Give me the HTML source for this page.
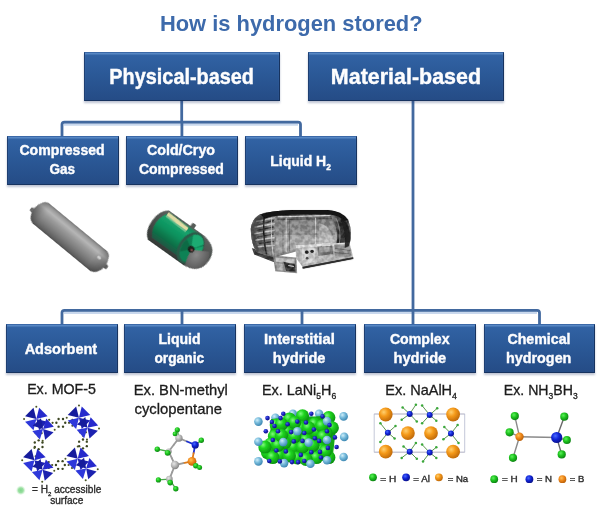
<!DOCTYPE html>
<html><head><meta charset="utf-8"><title>How is hydrogen stored?</title>
<style>
html,body{margin:0;padding:0;background:#fff;}
body{width:600px;height:507px;position:relative;overflow:hidden;font-family:"Liberation Sans", sans-serif;}
.t{position:absolute;white-space:nowrap;line-height:1;transform-origin:0 0;display:block;}
.t sub{font-size:0.66em;vertical-align:baseline;position:relative;top:0.22em;line-height:0;}
.b{font-weight:bold;}
.w{color:#fdfdfe;}
.blue{color:#3d6aab;}
.k{color:#1c1c1c;}
.g{color:#2c2c2c;}
.sb{-webkit-text-stroke:0.25px #2c2c2c;}
.bx{position:absolute;box-sizing:border-box;background:linear-gradient(#3263a5,#2b5997 45%,#254c86);border:1.2px solid #17335f;border-top:1px solid #3b69a8;border-left-color:#1e3f72;box-shadow:inset 0 1.5px 1px rgba(130,175,230,.5),0 1.5px 2px rgba(40,60,110,.3);}
svg{position:absolute;left:0;top:0;}
#root{position:absolute;left:0;top:0;width:600px;height:507px;background:#fff;filter:blur(0.45px);}
</style></head><body><div id="root">
<svg width="600" height="507" viewBox="0 0 600 507" fill="none" stroke="#42699f" stroke-width="2.8" stroke-linejoin="round">
<g opacity=".42" stroke="#7fa2d4" stroke-width="3" transform="translate(0 2.1)">
<path d="M64 122.100H298M64 310.300H537"/>
</g>
<path d="M181.700 99V122.100"/>
<path d="M62 138V124.600Q62 122.100 64.500 122.100H298Q300.500 122.100 300.500 124.600V138"/>
<path d="M181.900 122.100V138"/>
<path d="M413 99V310.300"/>
<path d="M62 326V312.800Q62 310.300 64.500 310.300H537Q539.500 310.300 539.500 312.800V326"/>
<path d="M182 310.300V326M302 310.300V326M413 310.300V326"/>
</svg>

<div class="bx" style="left:83.5px;top:51.7px;width:196.39999999999998px;height:49.099999999999994px"></div>
<div class="bx" style="left:308.2px;top:51.7px;width:196.3px;height:49.099999999999994px"></div>
<div class="bx" style="left:6.6px;top:136.2px;width:112.4px;height:48.60000000000002px"></div>
<div class="bx" style="left:126px;top:136.2px;width:112px;height:48.60000000000002px"></div>
<div class="bx" style="left:244.5px;top:136.2px;width:112.80000000000001px;height:48.60000000000002px"></div>
<div class="bx" style="left:5.5px;top:324.4px;width:112.3px;height:48.900000000000034px"></div>
<div class="bx" style="left:123.8px;top:324.4px;width:112.2px;height:48.900000000000034px"></div>
<div class="bx" style="left:243.8px;top:324.4px;width:112.09999999999997px;height:48.900000000000034px"></div>
<div class="bx" style="left:364px;top:324.4px;width:111.89999999999998px;height:48.900000000000034px"></div>
<div class="bx" style="left:483.8px;top:324.4px;width:111.09999999999997px;height:48.900000000000034px"></div>
<svg width="600" height="507" viewBox="0 0 600 507">
<defs>
<linearGradient id="gasg" x1="0" y1="0" x2="0" y2="1">
<stop offset="0" stop-color="#7a7a7a"/><stop offset="0.1" stop-color="#9c9c9c"/><stop offset="0.24" stop-color="#b6b6b6"/><stop offset="0.42" stop-color="#9b9b9b"/><stop offset="0.7" stop-color="#7d7d7d"/><stop offset="0.9" stop-color="#646464"/><stop offset="1" stop-color="#505050"/>
</linearGradient>
<linearGradient id="gasend" x1="0" y1="0" x2="1" y2="0">
<stop offset="0" stop-color="#000" stop-opacity=".3"/><stop offset="0.1" stop-color="#000" stop-opacity=".05"/><stop offset="0.14" stop-color="#000" stop-opacity="0"/><stop offset="0.84" stop-color="#000" stop-opacity="0"/><stop offset="0.9" stop-color="#000" stop-opacity=".1"/><stop offset="1" stop-color="#000" stop-opacity=".32"/>
</linearGradient>
<filter id="b6" x="-10%" y="-10%" width="120%" height="120%"><feGaussianBlur stdDeviation="0.55"/></filter>
</defs>
<g transform="translate(69.5 237.0) rotate(39.5)" filter="url(#b6)">
<rect x="-48" y="0.500" width="6" height="4.500" rx="1.500" fill="#6a6a6a"/>
<rect x="43" y="-2.600" width="5.800" height="4.500" rx="1.500" fill="#5c5c5c"/>
<rect x="-45.5" y="-12.9" width="91.5" height="25.8" rx="9" ry="12.9" fill="url(#gasg)"/>
<rect x="-45.5" y="-12.9" width="91.5" height="25.8" rx="9" ry="12.9" fill="url(#gasend)"/>
<ellipse cx="36" cy="-3" rx="2.200" ry="1.600" fill="#fff" opacity=".55"/>
</g>
</svg>

<svg width="600" height="507" viewBox="0 0 600 507">
<defs>
<linearGradient id="crg" x1="0" y1="0" x2="0" y2="1">
<stop offset="0" stop-color="#1b835a"/><stop offset="0.2" stop-color="#15a36d"/><stop offset="0.5" stop-color="#0d915d"/><stop offset="0.78" stop-color="#0a7047"/><stop offset="1" stop-color="#245643"/>
</linearGradient>
<linearGradient id="crs" x1="0" y1="0" x2="0" y2="1">
<stop offset="0" stop-color="#5d625f"/><stop offset="0.5" stop-color="#474c49"/><stop offset="1" stop-color="#353a37"/>
</linearGradient>
<radialGradient id="crd" cx="0.35" cy="0.4" r="0.75">
<stop offset="0" stop-color="#8a8a8a"/><stop offset="1" stop-color="#505050"/>
</radialGradient>
<filter id="b5" x="-10%" y="-10%" width="120%" height="120%"><feGaussianBlur stdDeviation="0.55"/></filter>
</defs>
<g transform="translate(180.4 240.8) rotate(35.5)" filter="url(#b5)">
<!-- outer shell -->
<path d="M-27 -18L16 -18Q34.75 -16 34.75 0Q34.75 16 16 18L-27 18Q-34.75 13 -34.75 0Q-34.75 -13 -27 -18Z" fill="url(#crs)"/>
<!-- green body -->
<path d="M-25 -16.6H10V14H-25Q-30.5 7 -30.5 -1Q-30.5 -9 -25 -16.6Z" fill="url(#crg)"/>
<!-- cream highlight -->
<path d="M-26 -16.4L-1 -15.2V-11.4L-26 -12.6Z" fill="#e0dba4"/>
<path d="M-26 -12.6L-1 -11.4V-9.8L-26 -11Z" fill="#8fcf9f" opacity=".7"/>
<!-- right end rim -->
<ellipse cx="12.500" cy="0" rx="12" ry="17.2" fill="#2b5b49"/>
<ellipse cx="13.500" cy="0" rx="10" ry="15" fill="#0e8254"/>
<!-- fan sectors -->
<path d="M13.700 0.500L7 -12A10 15 0 0 1 21 -10.5Z" fill="#1cab72"/>
<path d="M13.700 0.500L6 9A10 15 0 0 1 4.500 -5Z" fill="#0a6a45"/>
<path d="M13.700 0.500L22 -9A10 15 0 0 1 23.500 -1Z" fill="#14a36b"/>
<!-- gray dome lower right -->
<path d="M14 1L30 -8Q36.500 0 33 9Q28.500 17 18 17.600Q15 10 14 1Z" fill="url(#crd)"/>
<!-- hub -->
<circle cx="13.700" cy="0.600" r="3.400" fill="#1b211e"/>
<circle cx="14.600" cy="1" r="1.300" fill="#7d4a4a"/>
<!-- nub -->
<rect x="-0.500" y="-22" width="4.500" height="5" rx="1" fill="#565b58"/>
</g>
</svg>

<svg width="600" height="507" viewBox="0 0 600 507">
<defs>
<linearGradient id="lhb" x1="0" y1="0" x2="0" y2="1">
<stop offset="0" stop-color="#2b2b2b"/><stop offset="0.14" stop-color="#555"/><stop offset="0.22" stop-color="#848484"/><stop offset="0.45" stop-color="#8e8e8e"/><stop offset="0.62" stop-color="#b4b4b4"/><stop offset="0.85" stop-color="#a0a0a0"/><stop offset="1" stop-color="#6a6a6a"/>
</linearGradient>
<linearGradient id="lhr" x1="0" y1="0" x2="1" y2="0.2">
<stop offset="0" stop-color="#9a9a9a"/><stop offset="0.3" stop-color="#5a5a5a"/><stop offset="0.55" stop-color="#262626"/><stop offset="0.85" stop-color="#2e2e2e"/><stop offset="1" stop-color="#6a6a6a"/>
</linearGradient>
<linearGradient id="lhl" x1="0" y1="0" x2="1" y2="0">
<stop offset="0" stop-color="#666"/><stop offset="0.4" stop-color="#5a5a5a"/><stop offset="1" stop-color="#8c8c8c"/>
</linearGradient>
<filter id="b7" x="-5%" y="-5%" width="110%" height="110%" color-interpolation-filters="sRGB">
<feTurbulence type="fractalNoise" baseFrequency="0.045" numOctaves="2" seed="7" result="n"/>
<feColorMatrix in="n" type="matrix" values="1 0 0 0 0  1 0 0 0 0  1 0 0 0 0  0 0 0 0 1" result="g"/>
<feComponentTransfer in="g" result="g2"><feFuncR type="linear" slope="3.2" intercept="-1.1"/><feFuncG type="linear" slope="3.2" intercept="-1.1"/><feFuncB type="linear" slope="3.2" intercept="-1.1"/><feFuncA type="linear" slope="0" intercept="0.15"/></feComponentTransfer>
<feComposite in="g2" in2="SourceGraphic" operator="in" result="g3"/>
<feMerge result="m"><feMergeNode in="SourceGraphic"/><feMergeNode in="g3"/></feMerge>
<feGaussianBlur in="m" stdDeviation="2.2"/>
</filter>
<filter id="b8" x="-5%" y="-5%" width="110%" height="110%"><feGaussianBlur stdDeviation="2.2"/></filter>
</defs>
<g transform="translate(245 200) scale(0.19168)" filter="url(#b7)">
<!-- base plate -->
<path d="M36 250L150 294L156 326L48 284Z" fill="#383838"/>
<!-- body -->
<path d="M30 150Q38 95 80 74Q150 54 250 52L430 52Q505 56 538 104Q562 160 546 232L524 254L290 262L150 300L62 272Q30 230 30 150Z" fill="url(#lhb)"/>
<!-- left end -->
<path d="M30 150Q38 95 80 74Q120 62 165 57L158 298L62 272Q30 230 30 150Z" fill="url(#lhl)"/>
<path d="M58 112L155 92M50 142L155 122M48 176L155 158M52 210L155 196M66 244L155 236" stroke="#e0e0e0" stroke-width="8" opacity=".8" fill="none"/>
<path d="M70 128L150 108M60 160L150 140M62 194L150 178M72 228L150 216" stroke="#1c1c1c" stroke-width="7" opacity=".85" fill="none"/>
<path d="M102 72Q88 170 112 284" stroke="#1a1a1a" stroke-width="8" fill="none"/>
<path d="M142 62Q130 170 148 296" stroke="#e8e8e8" stroke-width="5" fill="none" opacity=".85"/>
<!-- top black band -->

<path d="M170 88L470 80" stroke="#ededed" stroke-width="6" opacity=".9"/>
<path d="M170 102L470 96" stroke="#3c3c3c" stroke-width="7" opacity=".8"/>
<!-- seams -->
<path d="M215 95V272M368 92V252" stroke="#f0f0f0" stroke-width="4" opacity=".85"/>
<path d="M198 100V276M232 100V268" stroke="#4a4a4a" stroke-width="3.500" opacity=".7"/>
<path d="M160 178H470" stroke="#6e6e6e" stroke-width="5" opacity=".7"/>
<path d="M385 120Q440 130 465 210L465 250L385 252Z" fill="#d2d2d2" opacity=".55"/>
<!-- right dome -->
<path d="M440 72Q505 60 538 104Q562 160 546 232L528 254L470 256Q500 160 440 72Z" fill="url(#lhr)"/>
<path d="M476 96Q506 160 490 244" stroke="#a8a8a8" stroke-width="5" fill="none" opacity=".7"/>
<!-- large panel -->
<path d="M264 236L545 222L564 298L300 348L266 302Z" fill="#bdbdbd"/>
<path d="M264 236L545 222L548 236L266 250Z" fill="#e6e6e6"/>
<path d="M298 252H366V322L298 338Z" fill="#dadada"/>
<circle cx="322" cy="272" r="9" fill="#222"/><circle cx="350" cy="268" r="8" fill="#2c2c2c"/>
<circle cx="324" cy="304" r="7" fill="#3a3a3a"/>
<path d="M378 242L456 238L460 282L382 292Z" fill="#767676"/>
<path d="M386 248L440 245L442 270L388 275Z" fill="#a4a4a4"/>
<path d="M400 226L445 224L446 240L402 243Z" fill="#f2f2f2"/>
<path d="M466 234L545 230L556 292L472 302Z" fill="#969696"/>
<path d="M470 252L550 264M468 274L553 282" stroke="#5a5a5a" stroke-width="4"/>
<path d="M300 348L564 298L564 307L302 358Z" fill="#333"/>
<!-- small panel -->
<path d="M146 290L268 300L272 382L158 372Z" fill="#8e8e8e"/>
<path d="M158 300L258 308L260 330L163 322Z" fill="#c8c8c8"/>
<path d="M200 322L262 336L264 374L215 370Z" fill="#2a2a2a"/>
<path d="M163 330L195 334L198 368L166 364Z" fill="#b4b4b4"/>
<path d="M225 342L255 347" stroke="#e2e2e2" stroke-width="6"/>
</g>
<g transform="translate(245 200) scale(0.19168)" filter="url(#b8)">
<path d="M80 75Q150 54 250 52L430 52Q505 56 538 104L518 110Q492 78 430 74L250 75Q160 78 100 97Z" fill="#121212"/>
<path d="M506 94Q538 112 548 170Q552 210 542 240L520 250Q528 170 500 106Z" fill="#1c1c1c" opacity=".9"/>
<path d="M34 150Q40 100 80 76L100 96Q62 120 56 170Q54 220 78 268L62 272Q32 230 34 150Z" fill="#2a2a2a" opacity=".5"/>
<path d="M300 350L564 300L564 308L302 359Z" fill="#2c2c2c"/>
<circle cx="322" cy="272" r="8" fill="#1e1e1e"/><circle cx="350" cy="268" r="7" fill="#262626"/>
</g>
</svg>

<svg width="600" height="507" viewBox="0 0 600 507">
<defs><filter id="bm" x="-5%" y="-5%" width="110%" height="110%"><feGaussianBlur stdDeviation="1.5"/></filter><radialGradient id="gh"><stop offset="0" stop-color="#7fd58a"/><stop offset="0.55" stop-color="#9be0a2"/><stop offset="1" stop-color="#d8f3da" stop-opacity="0.3"/></radialGradient></defs>
<g transform="translate(15 400) scale(0.21110)" filter="url(#bm)">
<circle cx="238.0" cy="108.0" r="5.6" fill="#3a4420"/><circle cx="227.5" cy="126.2" r="5.6" fill="#3a4420"/><circle cx="206.5" cy="126.2" r="5.6" fill="#3a4420"/><circle cx="196.0" cy="108.0" r="5.6" fill="#3a4420"/><circle cx="206.5" cy="89.8" r="5.6" fill="#3a4420"/><circle cx="227.5" cy="89.8" r="5.6" fill="#3a4420"/>
<circle cx="178" cy="108" r="5.2" fill="#454f24"/>
<circle cx="162" cy="94" r="5.2" fill="#454f24"/>
<circle cx="162" cy="122" r="5.2" fill="#454f24"/>
<circle cx="256" cy="108" r="5.2" fill="#454f24"/>
<circle cx="272" cy="94" r="5.2" fill="#454f24"/>
<circle cx="272" cy="122" r="5.2" fill="#454f24"/>
<circle cx="236.0" cy="308.0" r="5.6" fill="#3a4420"/><circle cx="225.5" cy="326.2" r="5.6" fill="#3a4420"/><circle cx="204.5" cy="326.2" r="5.6" fill="#3a4420"/><circle cx="194.0" cy="308.0" r="5.6" fill="#3a4420"/><circle cx="204.5" cy="289.8" r="5.6" fill="#3a4420"/><circle cx="225.5" cy="289.8" r="5.6" fill="#3a4420"/>
<circle cx="176" cy="308" r="5.2" fill="#454f24"/>
<circle cx="160" cy="294" r="5.2" fill="#454f24"/>
<circle cx="160" cy="322" r="5.2" fill="#454f24"/>
<circle cx="254" cy="308" r="5.2" fill="#454f24"/>
<circle cx="270" cy="294" r="5.2" fill="#454f24"/>
<circle cx="270" cy="322" r="5.2" fill="#454f24"/>
<circle cx="130.2" cy="222.5" r="5.6" fill="#3a4420"/><circle cx="112.0" cy="233.0" r="5.6" fill="#3a4420"/><circle cx="93.8" cy="222.5" r="5.6" fill="#3a4420"/><circle cx="93.8" cy="201.5" r="5.6" fill="#3a4420"/><circle cx="112.0" cy="191.0" r="5.6" fill="#3a4420"/><circle cx="130.2" cy="201.5" r="5.6" fill="#3a4420"/>
<circle cx="112" cy="173" r="5.2" fill="#454f24"/>
<circle cx="98" cy="157" r="5.2" fill="#454f24"/>
<circle cx="126" cy="157" r="5.2" fill="#454f24"/>
<circle cx="112" cy="251" r="5.2" fill="#454f24"/>
<circle cx="98" cy="267" r="5.2" fill="#454f24"/>
<circle cx="126" cy="267" r="5.2" fill="#454f24"/>
<circle cx="340.2" cy="218.5" r="5.6" fill="#3a4420"/><circle cx="322.0" cy="229.0" r="5.6" fill="#3a4420"/><circle cx="303.8" cy="218.5" r="5.6" fill="#3a4420"/><circle cx="303.8" cy="197.5" r="5.6" fill="#3a4420"/><circle cx="322.0" cy="187.0" r="5.6" fill="#3a4420"/><circle cx="340.2" cy="197.5" r="5.6" fill="#3a4420"/>
<circle cx="322" cy="169" r="5.2" fill="#454f24"/>
<circle cx="308" cy="153" r="5.2" fill="#454f24"/>
<circle cx="336" cy="153" r="5.2" fill="#454f24"/>
<circle cx="322" cy="247" r="5.2" fill="#454f24"/>
<circle cx="308" cy="263" r="5.2" fill="#454f24"/>
<circle cx="336" cy="263" r="5.2" fill="#454f24"/>
<path d="M101.0 90.0L154.4 103.3L114.3 143.4Z" fill="#1d22b0"/><path d="M101.0 90.0L87.7 143.4L47.6 103.3Z" fill="#2e38da"/><path d="M101.0 90.0L47.6 76.7L87.7 36.6Z" fill="#181c9c"/><path d="M101.0 90.0L114.3 36.6L154.4 76.7Z" fill="#262ccc"/>
<path d="M133.0 137.0L182.7 152.2L142.9 188.0Z" fill="#1d22b0"/><path d="M133.0 137.0L117.8 186.7L82.0 146.9Z" fill="#2e38da"/><path d="M133.0 137.0L83.3 121.8L123.1 86.0Z" fill="#181c9c"/><path d="M133.0 137.0L148.2 87.3L184.0 127.1Z" fill="#262ccc"/>
<circle cx="101" cy="32" r="4.8" fill="#4b5626"/>
<circle cx="43" cy="90" r="4.8" fill="#4b5626"/>
<circle cx="188" cy="141" r="4.8" fill="#4b5626"/>
<circle cx="131" cy="193" r="4.8" fill="#4b5626"/>
<path d="M303.0 84.0L356.4 97.3L316.3 137.4Z" fill="#1d22b0"/><path d="M303.0 84.0L289.7 137.4L249.6 97.3Z" fill="#2e38da"/><path d="M303.0 84.0L249.6 70.7L289.7 30.6Z" fill="#181c9c"/><path d="M303.0 84.0L316.3 30.6L356.4 70.7Z" fill="#262ccc"/>
<path d="M343.0 131.0L392.7 146.2L352.9 182.0Z" fill="#1d22b0"/><path d="M343.0 131.0L327.8 180.7L292.0 140.9Z" fill="#2e38da"/><path d="M343.0 131.0L293.3 115.8L333.1 80.0Z" fill="#181c9c"/><path d="M343.0 131.0L358.2 81.3L394.0 121.1Z" fill="#262ccc"/>
<circle cx="303" cy="26" r="4.8" fill="#4b5626"/>
<circle cx="245" cy="84" r="4.8" fill="#4b5626"/>
<circle cx="398" cy="135" r="4.8" fill="#4b5626"/>
<circle cx="341" cy="187" r="4.8" fill="#4b5626"/>
<path d="M92.0 285.0L145.4 298.3L105.3 338.4Z" fill="#1d22b0"/><path d="M92.0 285.0L78.7 338.4L38.6 298.3Z" fill="#2e38da"/><path d="M92.0 285.0L38.6 271.7L78.7 231.6Z" fill="#181c9c"/><path d="M92.0 285.0L105.3 231.6L145.4 271.7Z" fill="#262ccc"/>
<path d="M131.0 331.0L180.7 346.2L140.9 382.0Z" fill="#1d22b0"/><path d="M131.0 331.0L115.8 380.7L80.0 340.9Z" fill="#2e38da"/><path d="M131.0 331.0L81.3 315.8L121.1 280.0Z" fill="#181c9c"/><path d="M131.0 331.0L146.2 281.3L182.0 321.1Z" fill="#262ccc"/>
<circle cx="92" cy="227" r="4.8" fill="#4b5626"/>
<circle cx="34" cy="285" r="4.8" fill="#4b5626"/>
<circle cx="186" cy="335" r="4.8" fill="#4b5626"/>
<circle cx="129" cy="387" r="4.8" fill="#4b5626"/>
<path d="M297.0 278.0L350.4 291.3L310.3 331.4Z" fill="#1d22b0"/><path d="M297.0 278.0L283.7 331.4L243.6 291.3Z" fill="#2e38da"/><path d="M297.0 278.0L243.6 264.7L283.7 224.6Z" fill="#181c9c"/><path d="M297.0 278.0L310.3 224.6L350.4 264.7Z" fill="#262ccc"/>
<path d="M337.0 324.0L386.7 339.2L346.9 375.0Z" fill="#1d22b0"/><path d="M337.0 324.0L321.8 373.7L286.0 333.9Z" fill="#2e38da"/><path d="M337.0 324.0L287.3 308.8L327.1 273.0Z" fill="#181c9c"/><path d="M337.0 324.0L352.2 274.3L388.0 314.1Z" fill="#262ccc"/>
<circle cx="297" cy="220" r="4.8" fill="#4b5626"/>
<circle cx="239" cy="278" r="4.8" fill="#4b5626"/>
<circle cx="392" cy="328" r="4.8" fill="#4b5626"/>
<circle cx="335" cy="380" r="4.8" fill="#4b5626"/>
</g>
<circle cx="20.8" cy="490.3" r="4.6" fill="url(#gh)"/>
</svg>
<svg width="600" height="507" viewBox="0 0 600 507">
<defs>
<radialGradient id="mg" cx="0.38" cy="0.35" r="0.7"><stop offset="0" stop-color="#5cf05c"/><stop offset="0.45" stop-color="#1fc51f"/><stop offset="1" stop-color="#0b7d12"/></radialGradient>
<radialGradient id="mc" cx="0.38" cy="0.35" r="0.7"><stop offset="0" stop-color="#e6e6e6"/><stop offset="0.5" stop-color="#b5b5b5"/><stop offset="1" stop-color="#7d7d7d"/></radialGradient>
<radialGradient id="mn" cx="0.38" cy="0.35" r="0.7"><stop offset="0" stop-color="#4a6bff"/><stop offset="0.45" stop-color="#1226d8"/><stop offset="1" stop-color="#060e86"/></radialGradient>
<radialGradient id="mo" cx="0.38" cy="0.35" r="0.7"><stop offset="0" stop-color="#ffc05a"/><stop offset="0.45" stop-color="#f08a1c"/><stop offset="1" stop-color="#b85c06"/></radialGradient>
<filter id="mb" x="-10%" y="-10%" width="120%" height="120%"><feGaussianBlur stdDeviation="0.45"/></filter>
</defs>
<g filter="url(#mb)">
<path d="M178.9 438.1L187.0 441.5" stroke="#9a9a9a" stroke-width="1.8" stroke-linecap="round"/><path d="M187.0 441.5L195.2 444.9" stroke="#1a2fd0" stroke-width="1.8" stroke-linecap="round"/>
<path d="M195.2 444.9L193.6 453.1" stroke="#1a2fd0" stroke-width="1.8" stroke-linecap="round"/><path d="M193.6 453.1L192.0 461.3" stroke="#e07a18" stroke-width="1.8" stroke-linecap="round"/>
<path d="M192.0 461.3L183.5 463.1" stroke="#e07a18" stroke-width="1.8" stroke-linecap="round"/><path d="M183.5 463.1L175.0 465.0" stroke="#9a9a9a" stroke-width="1.8" stroke-linecap="round"/>
<path d="M175.0 465.0L171.8 458.2" stroke="#9a9a9a" stroke-width="1.8" stroke-linecap="round"/><path d="M171.8 458.2L168.7 451.5" stroke="#9a9a9a" stroke-width="1.8" stroke-linecap="round"/>
<path d="M168.7 451.5L173.8 444.8" stroke="#9a9a9a" stroke-width="1.8" stroke-linecap="round"/><path d="M173.8 444.8L178.9 438.1" stroke="#9a9a9a" stroke-width="1.8" stroke-linecap="round"/>
<path d="M175.0 465.0L172.2 472.1" stroke="#9a9a9a" stroke-width="1.8" stroke-linecap="round"/><path d="M172.2 472.1L169.4 479.1" stroke="#9a9a9a" stroke-width="1.8" stroke-linecap="round"/>
<path d="M178.9 438.1L177.3 429.8" stroke="#4aa84a" stroke-width="1.3" stroke-linecap="round"/>
<path d="M195.2 444.9L201.3 440.2" stroke="#4aa84a" stroke-width="1.3" stroke-linecap="round"/>
<path d="M168.7 451.5L157.3 449.2" stroke="#4aa84a" stroke-width="1.3" stroke-linecap="round"/>
<path d="M192.0 461.3L195.8 465.7" stroke="#4aa84a" stroke-width="1.3" stroke-linecap="round"/>
<path d="M192.0 461.3L199.6 467.6" stroke="#4aa84a" stroke-width="1.3" stroke-linecap="round"/>
<path d="M169.4 479.1L158.4 479.9" stroke="#4aa84a" stroke-width="1.3" stroke-linecap="round"/>
<path d="M169.4 479.1L175.8 488.8" stroke="#4aa84a" stroke-width="1.3" stroke-linecap="round"/>
<circle cx="168.7" cy="451.5" r="3.0" fill="url(#mc)"/>
<circle cx="169.4" cy="479.1" r="3.3" fill="url(#mc)"/>
<circle cx="178.9" cy="438.1" r="3.7" fill="url(#mc)"/>
<circle cx="175.0" cy="465.0" r="4.2" fill="url(#mc)"/>
<circle cx="195.2" cy="444.9" r="3.6" fill="url(#mn)"/>
<circle cx="192.0" cy="461.3" r="4.4" fill="url(#mo)"/>
<circle cx="177.3" cy="429.8" r="2.6" fill="url(#mg)"/>
<circle cx="175.0" cy="433.9" r="2.4" fill="url(#mg)"/>
<circle cx="201.3" cy="440.2" r="2.7" fill="url(#mg)"/>
<circle cx="157.3" cy="449.2" r="2.7" fill="url(#mg)"/>
<circle cx="167.6" cy="452.8" r="2.9" fill="url(#mg)"/>
<circle cx="195.8" cy="465.7" r="2.7" fill="url(#mg)"/>
<circle cx="199.6" cy="467.6" r="2.5" fill="url(#mg)"/>
<circle cx="158.4" cy="479.9" r="2.6" fill="url(#mg)"/>
<circle cx="170.2" cy="482.6" r="2.8" fill="url(#mg)"/>
<circle cx="175.8" cy="488.8" r="2.7" fill="url(#mg)"/>
</g></svg>
<svg width="600" height="507" viewBox="0 0 600 507">
<defs>
<radialGradient id="lg" cx="0.36" cy="0.33" r="0.75"><stop offset="0" stop-color="#80fa80"/><stop offset="0.35" stop-color="#20d620"/><stop offset="1" stop-color="#07880c"/></radialGradient>
<radialGradient id="ll" cx="0.36" cy="0.33" r="0.75"><stop offset="0" stop-color="#cfeefa"/><stop offset="0.45" stop-color="#74b9da"/><stop offset="1" stop-color="#357fab"/></radialGradient>
<radialGradient id="ld" cx="0.36" cy="0.33" r="0.75"><stop offset="0" stop-color="#4a5cf0"/><stop offset="0.5" stop-color="#1a1fb8"/><stop offset="1" stop-color="#0a0a70"/></radialGradient>
<filter id="lb" x="-10%" y="-10%" width="120%" height="120%"><feGaussianBlur stdDeviation="0.5"/></filter>
</defs>
<g filter="url(#lb)">
<circle cx="275.4" cy="417.6" r="4.2" fill="url(#ll)"/>
<circle cx="292.9" cy="413.8" r="4.2" fill="url(#ll)"/>
<circle cx="319.1" cy="413.8" r="4.2" fill="url(#ll)"/>
<circle cx="285.0" cy="421.6" r="4.2" fill="url(#ll)"/>
<circle cx="310.4" cy="419.9" r="4.2" fill="url(#ll)"/>
<path d="M271.0 419.0 L331.4 415.5 L336.1 426.9 L332.3 461.0 L267.5 461.0 L262.3 450.5 L269.3 436.5 L271.0 426.0Z" fill="#12a818"/>
<circle cx="276.3" cy="425.1" r="6.6" fill="url(#lg)"/>
<circle cx="289.4" cy="419.0" r="6.6" fill="url(#lg)"/>
<circle cx="302.5" cy="415.9" r="6.6" fill="url(#lg)"/>
<circle cx="287.6" cy="431.3" r="6.6" fill="url(#lg)"/>
<circle cx="300.8" cy="427.4" r="6.6" fill="url(#lg)"/>
<circle cx="314.8" cy="423.9" r="6.6" fill="url(#lg)"/>
<circle cx="316.5" cy="431.6" r="6.6" fill="url(#lg)"/>
<circle cx="328.8" cy="417.6" r="6.6" fill="url(#lg)"/>
<circle cx="332.3" cy="427.8" r="6.6" fill="url(#lg)"/>
<circle cx="326.1" cy="433.0" r="6.6" fill="url(#lg)"/>
<circle cx="274.5" cy="436.2" r="6.6" fill="url(#lg)"/>
<circle cx="271.0" cy="443.9" r="6.6" fill="url(#lg)"/>
<circle cx="267.5" cy="452.6" r="6.6" fill="url(#lg)"/>
<circle cx="279.8" cy="454.9" r="6.6" fill="url(#lg)"/>
<circle cx="293.8" cy="447.0" r="6.6" fill="url(#lg)"/>
<circle cx="297.3" cy="457.9" r="6.6" fill="url(#lg)"/>
<circle cx="307.8" cy="451.9" r="6.6" fill="url(#lg)"/>
<circle cx="320.0" cy="449.1" r="6.6" fill="url(#lg)"/>
<circle cx="328.8" cy="457.5" r="6.6" fill="url(#lg)"/>
<circle cx="285.0" cy="442.6" r="6.6" fill="url(#lg)"/>
<circle cx="306.0" cy="440.0" r="6.6" fill="url(#lg)"/>
<circle cx="316.5" cy="457.5" r="6.6" fill="url(#lg)"/>
<circle cx="281.5" cy="424.3" r="6.6" fill="url(#lg)"/>
<circle cx="294.6" cy="422.5" r="6.6" fill="url(#lg)"/>
<circle cx="308.6" cy="427.8" r="6.6" fill="url(#lg)"/>
<circle cx="321.8" cy="426.0" r="6.6" fill="url(#lg)"/>
<circle cx="278.0" cy="445.3" r="6.6" fill="url(#lg)"/>
<circle cx="289.4" cy="455.8" r="6.6" fill="url(#lg)"/>
<circle cx="302.5" cy="447.0" r="6.6" fill="url(#lg)"/>
<circle cx="313.0" cy="445.3" r="6.6" fill="url(#lg)"/>
<circle cx="325.3" cy="451.4" r="6.6" fill="url(#lg)"/>
<circle cx="272.8" cy="457.5" r="6.6" fill="url(#lg)"/>
<circle cx="306.0" cy="459.3" r="6.6" fill="url(#lg)"/>
<circle cx="294.6" cy="436.5" r="6.6" fill="url(#lg)"/>
<circle cx="281.5" cy="435.6" r="6.6" fill="url(#lg)"/>
<circle cx="323.5" cy="436.5" r="6.6" fill="url(#lg)"/>
<circle cx="264.9" cy="447.0" r="6.6" fill="url(#lg)"/>
<circle cx="258.4" cy="421.6" r="4.3" fill="url(#ll)"/>
<circle cx="343.6" cy="416.4" r="4.3" fill="url(#ll)"/>
<circle cx="258.4" cy="441.8" r="4.3" fill="url(#ll)"/>
<circle cx="344.2" cy="436.9" r="4.3" fill="url(#ll)"/>
<circle cx="258.4" cy="461.4" r="4.3" fill="url(#ll)"/>
<circle cx="343.6" cy="457.0" r="4.3" fill="url(#ll)"/>
<circle cx="327.0" cy="421.1" r="4.3" fill="url(#ll)"/>
<circle cx="283.3" cy="442.1" r="4.3" fill="url(#ll)"/>
<circle cx="308.6" cy="442.6" r="4.3" fill="url(#ll)"/>
<circle cx="327.0" cy="440.0" r="4.3" fill="url(#ll)"/>
<circle cx="284.1" cy="463.1" r="4.3" fill="url(#ll)"/>
<circle cx="310.4" cy="463.8" r="4.3" fill="url(#ll)"/>
<circle cx="327.0" cy="460.3" r="4.3" fill="url(#ll)"/>
<circle cx="297.3" cy="431.3" r="4.3" fill="url(#ll)"/>
<circle cx="267.5" cy="418.1" r="2.3" fill="url(#ld)"/>
<circle cx="271.9" cy="422.0" r="2.3" fill="url(#ld)"/>
<circle cx="280.6" cy="418.1" r="2.3" fill="url(#ld)"/>
<circle cx="265.8" cy="431.3" r="2.3" fill="url(#ld)"/>
<circle cx="278.0" cy="431.3" r="2.3" fill="url(#ld)"/>
<circle cx="291.1" cy="432.1" r="2.3" fill="url(#ld)"/>
<circle cx="297.3" cy="421.6" r="2.3" fill="url(#ld)"/>
<circle cx="304.3" cy="433.0" r="2.3" fill="url(#ld)"/>
<circle cx="306.0" cy="422.5" r="2.3" fill="url(#ld)"/>
<circle cx="322.6" cy="416.4" r="2.3" fill="url(#ld)"/>
<circle cx="319.1" cy="440.9" r="2.3" fill="url(#ld)"/>
<circle cx="334.9" cy="437.4" r="2.3" fill="url(#ld)"/>
<circle cx="336.6" cy="447.0" r="2.3" fill="url(#ld)"/>
<circle cx="327.9" cy="447.9" r="2.3" fill="url(#ld)"/>
<circle cx="285.9" cy="451.4" r="2.3" fill="url(#ld)"/>
<circle cx="293.8" cy="441.4" r="2.3" fill="url(#ld)"/>
<circle cx="311.3" cy="452.3" r="2.3" fill="url(#ld)"/>
<circle cx="320.0" cy="451.9" r="2.3" fill="url(#ld)"/>
<circle cx="269.3" cy="461.0" r="2.3" fill="url(#ld)"/>
<circle cx="279.8" cy="461.4" r="2.3" fill="url(#ld)"/>
<circle cx="292.0" cy="462.1" r="2.3" fill="url(#ld)"/>
<circle cx="298.1" cy="462.1" r="2.3" fill="url(#ld)"/>
<circle cx="304.3" cy="461.0" r="2.3" fill="url(#ld)"/>
<circle cx="320.9" cy="457.5" r="2.3" fill="url(#ld)"/>
<circle cx="283.3" cy="413.8" r="2.3" fill="url(#ld)"/>
<circle cx="311.3" cy="413.8" r="2.3" fill="url(#ld)"/>
<circle cx="274.5" cy="426.0" r="2.3" fill="url(#ld)"/>
<circle cx="287.6" cy="424.3" r="2.3" fill="url(#ld)"/>
<circle cx="313.9" cy="429.5" r="2.3" fill="url(#ld)"/>
<circle cx="329.6" cy="425.1" r="2.3" fill="url(#ld)"/>
<circle cx="302.5" cy="440.9" r="2.3" fill="url(#ld)"/>
<circle cx="276.3" cy="450.5" r="2.3" fill="url(#ld)"/>
<circle cx="300.8" cy="454.9" r="2.3" fill="url(#ld)"/>
<circle cx="327.0" cy="431.3" r="2.3" fill="url(#ld)"/>
<circle cx="272.8" cy="440.0" r="2.3" fill="url(#ld)"/>
<circle cx="314.8" cy="438.3" r="2.3" fill="url(#ld)"/>
</g></svg>
<svg width="600" height="507" viewBox="0 0 600 507">
<defs>
<radialGradient id="ng" cx="0.38" cy="0.35" r="0.7"><stop offset="0" stop-color="#5cf05c"/><stop offset="0.45" stop-color="#1fc51f"/><stop offset="1" stop-color="#0b7d12"/></radialGradient>
<radialGradient id="nn" cx="0.38" cy="0.35" r="0.7"><stop offset="0" stop-color="#4a6bff"/><stop offset="0.45" stop-color="#1226d8"/><stop offset="1" stop-color="#060e86"/></radialGradient>
<radialGradient id="no" cx="0.36" cy="0.33" r="0.75"><stop offset="0" stop-color="#ffd070"/><stop offset="0.4" stop-color="#f59a1a"/><stop offset="1" stop-color="#b86205"/></radialGradient>
<filter id="nb" x="-10%" y="-10%" width="120%" height="120%"><feGaussianBlur stdDeviation="0.45"/></filter>
</defs>
<g filter="url(#nb)">
<path d="M374.2 413.9H464.7M374.2 452.3H464.7" stroke="#c9c9d6" stroke-width="1.5"/>
<path d="M374.2 413.9V452.3M464.7 413.9V452.3" stroke="#aab0c8" stroke-width="0.7"/>
<path d="M409.7 413.9L402.6 407.4" stroke="#4a8a3a" stroke-width="0.9"/>
<circle cx="402.6" cy="407.4" r="1.25" fill="#3aa83a"/>
<path d="M409.7 413.9L415.9 404.7" stroke="#4a8a3a" stroke-width="0.9"/>
<circle cx="415.9" cy="404.7" r="1.25" fill="#3aa83a"/>
<path d="M409.7 413.9L401.7 419.8" stroke="#4a8a3a" stroke-width="0.9"/>
<circle cx="401.7" cy="419.8" r="1.25" fill="#3aa83a"/>
<path d="M409.7 413.9L416.8 421.6" stroke="#4a8a3a" stroke-width="0.9"/>
<circle cx="416.8" cy="421.6" r="1.25" fill="#3aa83a"/>
<path d="M429.7 415.0L422.1 405.6" stroke="#4a8a3a" stroke-width="0.9"/>
<circle cx="422.1" cy="405.6" r="1.25" fill="#3aa83a"/>
<path d="M429.7 415.0L437.2 408.3" stroke="#4a8a3a" stroke-width="0.9"/>
<circle cx="437.2" cy="408.3" r="1.25" fill="#3aa83a"/>
<path d="M429.7 415.0L422.1 423.3" stroke="#4a8a3a" stroke-width="0.9"/>
<circle cx="422.1" cy="423.3" r="1.25" fill="#3aa83a"/>
<path d="M429.7 415.0L436.3 420.7" stroke="#4a8a3a" stroke-width="0.9"/>
<circle cx="436.3" cy="420.7" r="1.25" fill="#3aa83a"/>
<path d="M387.9 432.7L380.4 423.3" stroke="#4a8a3a" stroke-width="0.9"/>
<circle cx="380.4" cy="423.3" r="1.25" fill="#3aa83a"/>
<path d="M387.9 432.7L395.5 426.0" stroke="#4a8a3a" stroke-width="0.9"/>
<circle cx="395.5" cy="426.0" r="1.25" fill="#3aa83a"/>
<path d="M387.9 432.7L380.4 442.0" stroke="#4a8a3a" stroke-width="0.9"/>
<circle cx="380.4" cy="442.0" r="1.25" fill="#3aa83a"/>
<path d="M387.9 432.7L394.6 438.4" stroke="#4a8a3a" stroke-width="0.9"/>
<circle cx="394.6" cy="438.4" r="1.25" fill="#3aa83a"/>
<path d="M451.0 433.5L444.3 426.9" stroke="#4a8a3a" stroke-width="0.9"/>
<circle cx="444.3" cy="426.9" r="1.25" fill="#3aa83a"/>
<path d="M451.0 433.5L457.6 425.1" stroke="#4a8a3a" stroke-width="0.9"/>
<circle cx="457.6" cy="425.1" r="1.25" fill="#3aa83a"/>
<path d="M451.0 433.5L443.4 439.3" stroke="#4a8a3a" stroke-width="0.9"/>
<circle cx="443.4" cy="439.3" r="1.25" fill="#3aa83a"/>
<path d="M451.0 433.5L458.5 442.9" stroke="#4a8a3a" stroke-width="0.9"/>
<circle cx="458.5" cy="442.9" r="1.25" fill="#3aa83a"/>
<path d="M409.7 451.7L403.5 446.4" stroke="#4a8a3a" stroke-width="0.9"/>
<circle cx="403.5" cy="446.4" r="1.25" fill="#3aa83a"/>
<path d="M409.7 451.7L415.9 442.9" stroke="#4a8a3a" stroke-width="0.9"/>
<circle cx="415.9" cy="442.9" r="1.25" fill="#3aa83a"/>
<path d="M409.7 451.7L401.7 457.9" stroke="#4a8a3a" stroke-width="0.9"/>
<circle cx="401.7" cy="457.9" r="1.25" fill="#3aa83a"/>
<path d="M409.7 451.7L416.8 458.8" stroke="#4a8a3a" stroke-width="0.9"/>
<circle cx="416.8" cy="458.8" r="1.25" fill="#3aa83a"/>
<path d="M429.7 452.6L422.1 444.6" stroke="#4a8a3a" stroke-width="0.9"/>
<circle cx="422.1" cy="444.6" r="1.25" fill="#3aa83a"/>
<path d="M429.7 452.6L436.3 447.3" stroke="#4a8a3a" stroke-width="0.9"/>
<circle cx="436.3" cy="447.3" r="1.25" fill="#3aa83a"/>
<path d="M429.7 452.6L423.0 461.5" stroke="#4a8a3a" stroke-width="0.9"/>
<circle cx="423.0" cy="461.5" r="1.25" fill="#3aa83a"/>
<path d="M429.7 452.6L436.3 457.9" stroke="#4a8a3a" stroke-width="0.9"/>
<circle cx="436.3" cy="457.9" r="1.25" fill="#3aa83a"/>
<circle cx="409.7" cy="413.9" r="3.0" fill="url(#nn)"/>
<circle cx="429.7" cy="415.0" r="3.0" fill="url(#nn)"/>
<circle cx="387.9" cy="432.7" r="3.0" fill="url(#nn)"/>
<circle cx="451.0" cy="433.5" r="3.0" fill="url(#nn)"/>
<circle cx="409.7" cy="451.7" r="3.0" fill="url(#nn)"/>
<circle cx="429.7" cy="452.6" r="3.0" fill="url(#nn)"/>
<circle cx="385.7" cy="414.5" r="6.9" fill="url(#no)"/>
<circle cx="453.1" cy="414.5" r="6.9" fill="url(#no)"/>
<circle cx="407.9" cy="433.1" r="6.9" fill="url(#no)"/>
<circle cx="431.0" cy="433.1" r="6.9" fill="url(#no)"/>
<circle cx="385.7" cy="451.7" r="6.9" fill="url(#no)"/>
<circle cx="453.1" cy="451.7" r="6.9" fill="url(#no)"/>
<circle cx="373.0" cy="477.3" r="3.9" fill="url(#ng)"/>
<circle cx="406.1" cy="477.3" r="3.9" fill="url(#nn)"/>
<circle cx="438.9" cy="477.3" r="3.9" fill="url(#no)"/>
</g></svg>
<svg width="600" height="507" viewBox="0 0 600 507">
<defs>
<radialGradient id="qg" cx="0.38" cy="0.35" r="0.7"><stop offset="0" stop-color="#5cf05c"/><stop offset="0.45" stop-color="#1fc51f"/><stop offset="1" stop-color="#0b7d12"/></radialGradient>
<radialGradient id="qc" cx="0.38" cy="0.35" r="0.7"><stop offset="0" stop-color="#e6e6e6"/><stop offset="0.5" stop-color="#b5b5b5"/><stop offset="1" stop-color="#7d7d7d"/></radialGradient>
<radialGradient id="qn" cx="0.38" cy="0.35" r="0.7"><stop offset="0" stop-color="#4a6bff"/><stop offset="0.45" stop-color="#1226d8"/><stop offset="1" stop-color="#060e86"/></radialGradient>
<radialGradient id="qo" cx="0.38" cy="0.35" r="0.7"><stop offset="0" stop-color="#ffc05a"/><stop offset="0.45" stop-color="#f08a1c"/><stop offset="1" stop-color="#b85c06"/></radialGradient>
<filter id="qb" x="-10%" y="-10%" width="120%" height="120%"><feGaussianBlur stdDeviation="0.45"/></filter>
</defs>
<g filter="url(#qb)">
<path d="M519.5 436.7L556.7 437.5" stroke="#8a8a8a" stroke-width="1.5" stroke-linecap="round"/>
<path d="M519.5 436.7L514.8 416.1" stroke="#8a8a8a" stroke-width="1.4" stroke-linecap="round"/>
<path d="M519.5 436.7L509.6 432.3" stroke="#8a8a8a" stroke-width="1.4" stroke-linecap="round"/>
<path d="M519.5 436.7L513.0 457.8" stroke="#8a8a8a" stroke-width="1.4" stroke-linecap="round"/>
<path d="M556.7 437.5L564.3 416.7" stroke="#6a6a6a" stroke-width="1.4" stroke-linecap="round"/>
<path d="M556.7 437.5L566.9 440.1" stroke="#6a6a6a" stroke-width="1.4" stroke-linecap="round"/>
<path d="M556.7 437.5L561.7 454.4" stroke="#6a6a6a" stroke-width="1.4" stroke-linecap="round"/>
<circle cx="566.9" cy="440.1" r="4.0" fill="url(#qg)"/>
<circle cx="519.5" cy="436.7" r="4.2" fill="url(#qo)"/>
<circle cx="556.7" cy="437.5" r="5.6" fill="url(#qn)"/>
<circle cx="514.8" cy="416.1" r="4.1" fill="url(#qg)"/>
<circle cx="509.6" cy="432.3" r="4.1" fill="url(#qg)"/>
<circle cx="513.0" cy="457.8" r="4.1" fill="url(#qg)"/>
<circle cx="564.3" cy="416.7" r="4.1" fill="url(#qg)"/>
<circle cx="561.7" cy="454.4" r="4.1" fill="url(#qg)"/>
<circle cx="494.2" cy="479.2" r="3.9" fill="url(#qg)"/>
<circle cx="529.4" cy="479.2" r="3.9" fill="url(#qn)"/>
<circle cx="562.4" cy="479.2" r="3.9" fill="url(#qo)"/>
</g></svg>
<svg width="600" height="507" viewBox="0 0 600 507" font-family='"Liberation Sans", sans-serif' style="z-index:5">
<text x="159.94" y="31.10" font-size="22.3" fill="#3d6aab" font-weight="bold" textLength="262.62" lengthAdjust="spacingAndGlyphs">How is hydrogen stored?</text>
<text x="109.37" y="84.40" font-size="21.3" fill="#fdfdfe" font-weight="bold" stroke="#fdfdfe" stroke-width="0.4" textLength="144.64" lengthAdjust="spacingAndGlyphs">Physical-based</text>
<text x="330.87" y="84.30" font-size="21.3" fill="#fdfdfe" font-weight="bold" stroke="#fdfdfe" stroke-width="0.4" textLength="150.15" lengthAdjust="spacingAndGlyphs">Material-based</text>
<text x="19.42" y="155.30" font-size="15.0" fill="#fdfdfe" font-weight="bold" stroke="#fdfdfe" stroke-width="0.4" textLength="85.25" lengthAdjust="spacingAndGlyphs">Compressed</text>
<text x="49.44" y="173.90" font-size="15.0" fill="#fdfdfe" font-weight="bold" stroke="#fdfdfe" stroke-width="0.4" textLength="25.61" lengthAdjust="spacingAndGlyphs">Gas</text>
<text x="146.92" y="155.30" font-size="15.0" fill="#fdfdfe" font-weight="bold" stroke="#fdfdfe" stroke-width="0.4" textLength="68.14" lengthAdjust="spacingAndGlyphs">Cold/Cryo</text>
<text x="138.92" y="173.90" font-size="15.0" fill="#fdfdfe" font-weight="bold" stroke="#fdfdfe" stroke-width="0.4" textLength="85.00" lengthAdjust="spacingAndGlyphs">Compressed</text>
<text x="270.32" y="165.50" font-size="15.0" fill="#fdfdfe" font-weight="bold" stroke="#fdfdfe" stroke-width="0.4" textLength="60.52" lengthAdjust="spacingAndGlyphs">Liquid H<tspan dy="4.20" font-size="9.00">2</tspan></text>
<text x="24.64" y="353.50" font-size="15.0" fill="#fdfdfe" font-weight="bold" stroke="#fdfdfe" stroke-width="0.4" textLength="72.54" lengthAdjust="spacingAndGlyphs">Adsorbent</text>
<text x="158.46" y="343.80" font-size="15.0" fill="#fdfdfe" font-weight="bold" stroke="#fdfdfe" stroke-width="0.4" textLength="42.17" lengthAdjust="spacingAndGlyphs">Liquid</text>
<text x="154.46" y="363.30" font-size="15.0" fill="#fdfdfe" font-weight="bold" stroke="#fdfdfe" stroke-width="0.4" textLength="49.69" lengthAdjust="spacingAndGlyphs">organic</text>
<text x="264.01" y="343.80" font-size="15.0" fill="#fdfdfe" font-weight="bold" stroke="#fdfdfe" stroke-width="0.4" textLength="70.79" lengthAdjust="spacingAndGlyphs">Interstitial</text>
<text x="272.73" y="363.30" font-size="15.0" fill="#fdfdfe" font-weight="bold" stroke="#fdfdfe" stroke-width="0.4" textLength="52.77" lengthAdjust="spacingAndGlyphs">hydride</text>
<text x="389.92" y="343.80" font-size="15.0" fill="#fdfdfe" font-weight="bold" stroke="#fdfdfe" stroke-width="0.4" textLength="59.68" lengthAdjust="spacingAndGlyphs">Complex</text>
<text x="393.48" y="363.30" font-size="15.0" fill="#fdfdfe" font-weight="bold" stroke="#fdfdfe" stroke-width="0.4" textLength="52.77" lengthAdjust="spacingAndGlyphs">hydride</text>
<text x="507.42" y="343.80" font-size="15.0" fill="#fdfdfe" font-weight="bold" stroke="#fdfdfe" stroke-width="0.4" textLength="63.09" lengthAdjust="spacingAndGlyphs">Chemical</text>
<text x="506.00" y="363.30" font-size="15.0" fill="#fdfdfe" font-weight="bold" stroke="#fdfdfe" stroke-width="0.4" textLength="65.39" lengthAdjust="spacingAndGlyphs">hydrogen</text>
<text x="27.13" y="394.00" font-size="15" fill="#1c1c1c" stroke="#1c1c1c" stroke-width="0.32" textLength="68.76" lengthAdjust="spacingAndGlyphs">Ex. MOF-5</text>
<text x="133.79" y="395.00" font-size="15" fill="#1c1c1c" stroke="#1c1c1c" stroke-width="0.32" textLength="93.99" lengthAdjust="spacingAndGlyphs">Ex. BN-methyl</text>
<text x="134.47" y="413.50" font-size="15" fill="#1c1c1c" stroke="#1c1c1c" stroke-width="0.32" textLength="87.49" lengthAdjust="spacingAndGlyphs">cyclopentane</text>
<text x="262.02" y="394.90" font-size="15" fill="#1c1c1c" stroke="#1c1c1c" stroke-width="0.32" textLength="74.26" lengthAdjust="spacingAndGlyphs">Ex. LaNi<tspan dy="4.20" font-size="9.00">5</tspan><tspan dy="-4.20">H</tspan><tspan dy="4.20" font-size="9.00">6</tspan></text>
<text x="385.21" y="394.80" font-size="15" fill="#1c1c1c" stroke="#1c1c1c" stroke-width="0.32" textLength="71.74" lengthAdjust="spacingAndGlyphs">Ex. NaAlH<tspan dy="4.20" font-size="9.00">4</tspan></text>
<text x="503.84" y="395.00" font-size="15" fill="#1c1c1c" stroke="#1c1c1c" stroke-width="0.32" textLength="73.83" lengthAdjust="spacingAndGlyphs">Ex. NH<tspan dy="4.20" font-size="9.00">3</tspan><tspan dy="-4.20">BH</tspan><tspan dy="4.20" font-size="9.00">3</tspan></text>
<text x="32.01" y="493.30" font-size="10" fill="#2c2c2c" stroke="#2c2c2c" stroke-width="0.35" textLength="69.24" lengthAdjust="spacingAndGlyphs">= H<tspan dy="2.80" font-size="6.00">2</tspan><tspan dy="-2.80"> accessible</tspan></text>
<text x="50.22" y="503.90" font-size="10" fill="#2c2c2c" stroke="#2c2c2c" stroke-width="0.35" textLength="33.03" lengthAdjust="spacingAndGlyphs">surface</text>
<text x="380.31" y="481.80" font-size="8.8" fill="#2c2c2c" stroke="#2c2c2c" stroke-width="0.35" textLength="16.02" lengthAdjust="spacingAndGlyphs">= H</text>
<text x="413.34" y="481.80" font-size="8.8" fill="#2c2c2c" stroke="#2c2c2c" stroke-width="0.35" textLength="16.49" lengthAdjust="spacingAndGlyphs">= Al</text>
<text x="447.73" y="481.80" font-size="8.8" fill="#2c2c2c" stroke="#2c2c2c" stroke-width="0.35" textLength="20.47" lengthAdjust="spacingAndGlyphs">= Na</text>
<text x="502.02" y="482.20" font-size="8.8" fill="#2c2c2c" stroke="#2c2c2c" stroke-width="0.35" textLength="15.69" lengthAdjust="spacingAndGlyphs">= H</text>
<text x="536.73" y="482.20" font-size="8.8" fill="#2c2c2c" stroke="#2c2c2c" stroke-width="0.35" textLength="15.31" lengthAdjust="spacingAndGlyphs">= N</text>
<text x="569.84" y="482.20" font-size="8.8" fill="#2c2c2c" stroke="#2c2c2c" stroke-width="0.35" textLength="14.46" lengthAdjust="spacingAndGlyphs">= B</text>
</svg>
</div></body></html>
